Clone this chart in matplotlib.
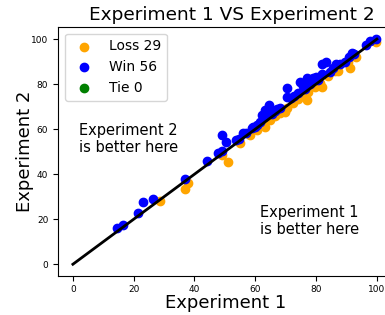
import matplotlib
matplotlib.use("Agg")
import matplotlib.pyplot as plt

loss_x = [28.6, 36.8, 37.9, 48.9, 51.1, 54.9, 58.2, 60.5, 63.2, 64.8, 66.5, 68.1, 69.7, 70.3,
          72.5, 74.1, 76.3, 76.9, 77.4, 79.5, 81.8, 81.2, 84.0, 86.2, 87.3, 90.6, 91.1, 93.0, 99.7]
loss_y = [28.0, 33.3, 36.0, 48.3, 45.5, 53.7, 57.4, 59.8, 61.1, 64.0, 65.8, 67.0, 67.5, 69.4,
          71.8, 73.6, 74.4, 72.9, 76.6, 78.9, 78.8, 80.3, 83.5, 85.8, 85.9, 89.9, 87.0, 92.2, 98.5]

win_x = [14.4, 16.4, 21.3, 23.2, 26.4, 36.8, 44.0, 47.8, 49.1, 48.9, 50.5, 53.8, 54.5, 56.0,
         57.0, 58.8, 59.3, 60.4, 61.5, 62.1, 62.8, 63.2, 64.2, 64.6, 65.5, 66.5, 68.0, 70.3,
         70.5, 71.9, 72.8, 74.1, 74.7, 75.8, 76.5, 77.1, 78.0, 79.0, 79.9, 80.5, 81.8, 81.8,
         83.2, 84.5, 85.5, 86.7, 88.0, 89.5, 90.8, 91.7, 92.5, 96.5, 97.7, 99.7, 59.8, 67.2]
win_y = [16.2, 17.3, 22.6, 27.8, 28.9, 38.0, 45.7, 49.3, 50.3, 57.6, 54.1, 55.0, 55.6, 58.1,
         58.4, 60.6, 61.1, 61.8, 63.3, 66.3, 65.5, 68.5, 67.0, 70.7, 66.8, 68.0, 69.5, 74.4,
         78.1, 74.0, 74.5, 75.9, 81.0, 79.3, 78.0, 82.8, 80.2, 82.6, 83.3, 81.8, 84.3, 88.8,
         89.9, 85.5, 87.0, 88.8, 89.0, 89.9, 92.0, 93.9, 93.5, 97.5, 99.1, 100.0, 60.9, 68.8]

tie_x = []
tie_y = []

diag = [0, 100]

fig = plt.figure(figsize=(3.85, 3.15), dpi=100)
ax = fig.add_axes([58/385, 39.5/315, 334.4/385, 248.8/315])

ax.scatter(loss_x, loss_y, color="orange", label=f"Loss {len(loss_x)}")
ax.scatter(win_x, win_y, color="blue", label=f"Win {len(win_x)}")
ax.scatter(tie_x, tie_y, color="green", label=f"Tie {len(tie_x)}")
ax.plot(diag, diag, color="black", linewidth=2)

ax.set_xlim(-4.9, 105.1)
ax.set_ylim(-5, 105.5)
ax.set_xticks([0, 20, 40, 60, 80, 100])
ax.set_yticks([0, 20, 40, 60, 80, 100])
ax.tick_params(labelsize=6.5)

ax.text(2, 62.7, "Experiment 2\nis better here", fontsize=10.5, va="top", ha="left")
ax.text(61.5, 26.3, "Experiment 1\nis better here", fontsize=10.5, va="top", ha="left")

ax.set_title("Experiment 1 VS Experiment 2", fontsize=13.3, pad=5, x=0.52)
ax.set_xlabel("Experiment 1", fontsize=13, labelpad=0)
ax.set_ylabel("Experiment 2", fontsize=13, labelpad=-2)
ax.legend(loc="upper left", fontsize=10)

fig.savefig("out.png", dpi=100)
